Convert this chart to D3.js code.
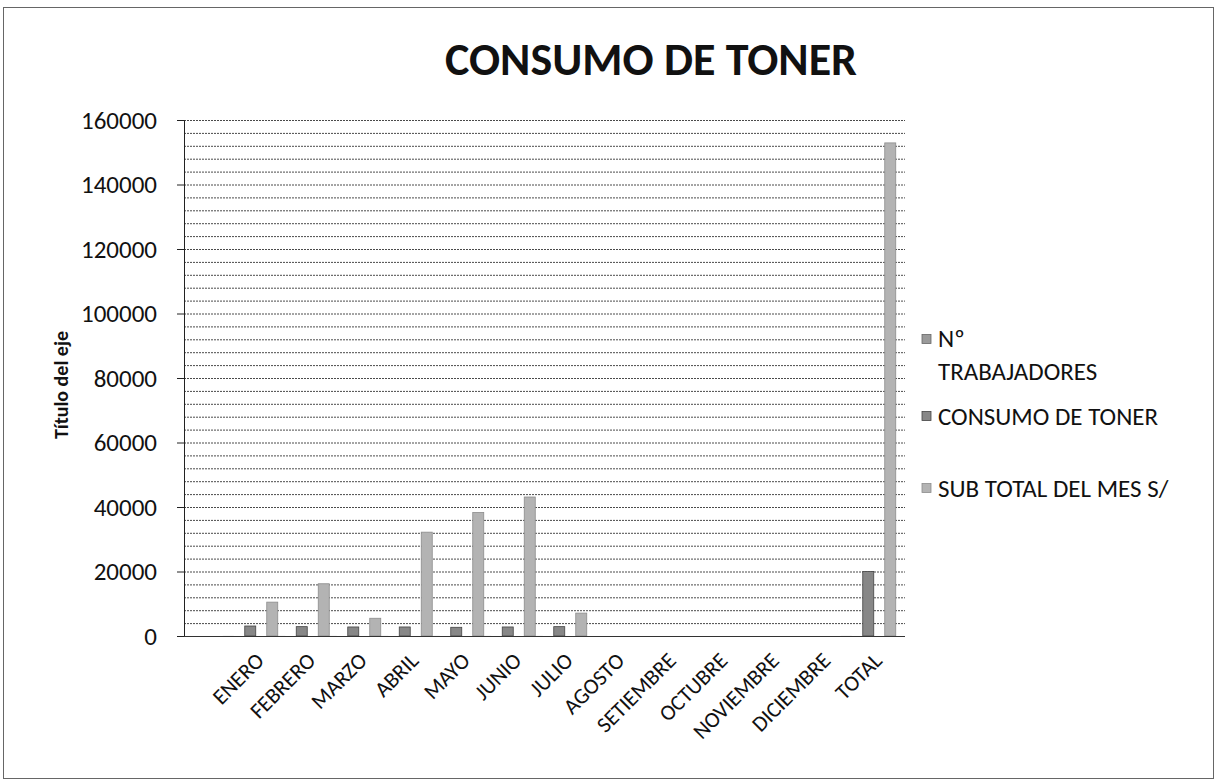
<!DOCTYPE html>
<html>
<head>
<meta charset="utf-8">
<script src="https://cdn.jsdelivr.net/npm/d3@7"></script>
<style>
  body { margin: 0; background: #fff; }
  text { font-family: Carlito, Calibri, Lato, "Open Sans", sans-serif; fill: #111; }
</style>
</head>
<body>
<script>
// categories (first one is the empty row of the sheet)
const categories = ["", "ENERO", "FEBRERO", "MARZO", "ABRIL", "MAYO", "JUNIO", "JULIO",
  "AGOSTO", "SETIEMBRE", "OCTUBRE", "NOVIEMBRE", "DICIEMBRE", "TOTAL"];
const series = ["Nº TRABAJADORES", "CONSUMO DE TONER", "SUB TOTAL DEL MES S/"];
const trabajadores = [null, 25, 25, 25, 25, 25, 25, 25, null, null, null, null, null, 25];
const consumo = [null, 3100, 2900, 2800, 2800, 2700, 2800, 2900, null, null, null, null, null, 20000];
const subTotal = [null, 10500, 16200, 5500, 32200, 38300, 43100, 7100, null, null, null, null, null, 152900];
const yTicks = [0, 20000, 40000, 60000, 80000, 100000, 120000, 140000, 160000];

var margin = {top: 120, left: 184, right: 315, bottom: 147},
    W = 1220, H = 783,
    width = W - margin.left - margin.right,
    height = H - margin.top - margin.bottom;

const svg = d3.select("body").append("svg")
    .attr("width", W).attr("height", H);

// outer chart border
svg.append("rect")
    .attr("x", 3.5).attr("y", 7.5).attr("width", 1210).attr("height", 771)
    .style("fill", "none").style("stroke", "#666").style("stroke-width", 1);

svg.append("text")
    .attr("x", 651).attr("y", 75)
    .style("text-anchor", "middle").style("font-weight", "bold").style("font-size", "46px")
    .text("CONSUMO DE TONER");

const g = svg.append("g").attr("transform", `translate(${margin.left}, ${margin.top})`);

var y = d3.scaleLinear().domain([0, 160000]).range([height, 0]);
var x0 = d3.scaleBand().domain(categories).range([0, width]);
// 3 series in each category, bar width = gap
var x1 = d3.scaleBand().domain(series).range([-44, 22]).paddingInner(0.5).paddingOuter(0.25);

// minor gridlines every 4000
g.selectAll(".grid")
    .data(d3.range(4000, 160001, 4000))
    .enter().append("line")
    .attr("x1", 0).attr("x2", width)
    .attr("y1", d => y(d) + 0.5).attr("y2", d => y(d) + 0.5)
    .style("stroke", "#4a4a4a").style("stroke-dasharray", "2,1").style("stroke-width", 1);

// bars
var rows = categories.map((c, i) => ({cat: c, vals: [trabajadores[i], consumo[i], subTotal[i]]}));
var fills = ["#9a9a9a", "#878787", "#b3b3b3"];
var strokes = ["none", "#444", "#8c8c8c"];

g.selectAll(".cat")
    .data(rows).enter()
    .append("g")
    .attr("transform", d => `translate(${x0(d.cat) + x0.bandwidth() / 2}, 0)`)
    .selectAll("rect")
    .data(d => d.vals.map((v, k) => ({s: series[k], k: k, v: v})).filter(e => e.v != null))
    .enter().append("rect")
    .attr("x", d => x1(d.s))
    .attr("width", x1.bandwidth())
    .attr("y", d => y(d.v))
    .attr("height", d => height - y(d.v))
    .style("fill", d => fills[d.k])
    .style("stroke", d => strokes[d.k])
    .style("stroke-width", 0.8);

// y axis
var yAxis = g.append("g")
    .call(d3.axisLeft(y).tickValues(yTicks).tickSize(7).tickPadding(20).tickFormat(d3.format("d")));
yAxis.select(".domain").style("stroke", "#222");
yAxis.selectAll(".tick line").style("stroke", "#222");
yAxis.selectAll("text").style("font-size", "25px");

// base line
g.append("line").attr("x1", 0).attr("x2", width).attr("y1", height + 0.5).attr("y2", height + 0.5)
    .style("stroke", "#333");

// x labels
g.selectAll(".xlab")
    .data(categories.filter(c => c !== "")).enter()
    .append("text")
    .attr("transform", d => `translate(${x0(d) + x0.bandwidth() / 2 + 4}, ${height + 26}) rotate(-45)`)
    .style("text-anchor", "end")
    .style("font-size", "22px")
    .text(d => d);

// y axis title
svg.append("text")
    .attr("transform", "translate(68, 385) rotate(-90)")
    .style("text-anchor", "middle").style("font-weight", "bold").style("font-size", "20px")
    .text("Título del eje");

// legend
var legendRows = [
  {k: 0, lines: ["Nº", "TRABAJADORES"], y: 339, base: 347},
  {k: 1, lines: ["CONSUMO DE TONER"], y: 416, base: 425},
  {k: 2, lines: ["SUB TOTAL DEL MES S/"], y: 488, base: 497}
];
var lg = svg.append("g");
legendRows.forEach(r => {
  lg.append("rect").attr("x", 922).attr("y", r.y - 4.5).attr("width", 9).attr("height", 9)
    .style("fill", fills[r.k]).style("stroke", strokes[r.k] === "none" ? "#666" : strokes[r.k]).style("stroke-width", 0.8);
  r.lines.forEach((t, j) => {
    lg.append("text").attr("x", 938).attr("y", r.base + j * 33)
      .style("font-size", "25px").text(t);
  });
});
</script>
</body>
</html>
